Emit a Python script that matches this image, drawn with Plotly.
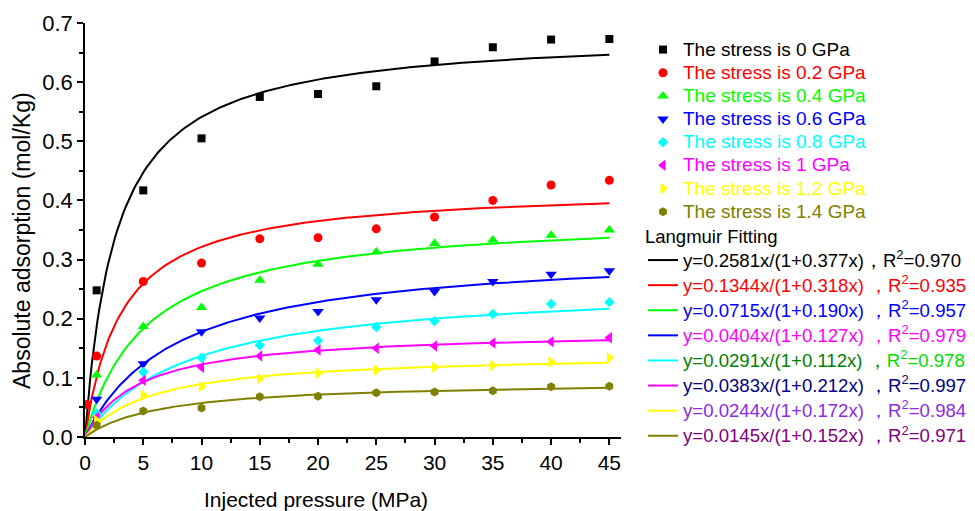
import numpy as np
import plotly.graph_objects as go

# ---------------- data ----------------
pressure = [1, 5, 10, 15, 20, 25, 30, 35, 40, 45]
stress_labels = ["0", "0.2", "0.4", "0.6", "0.8", "1", "1.2", "1.4"]

ads_00 = [0.248, 0.417, 0.505, 0.575, 0.580, 0.593, 0.635, 0.659, 0.672, 0.673]
ads_02 = [0.137, 0.263, 0.294, 0.335, 0.337, 0.352, 0.372, 0.400, 0.426, 0.434]
ads_04 = [0.105, 0.187, 0.219, 0.265, 0.292, 0.313, 0.327, 0.333, 0.341, 0.350]
ads_06 = [0.064, 0.124, 0.178, 0.201, 0.212, 0.232, 0.246, 0.263, 0.275, 0.281]
ads_08 = [0.040, 0.110, 0.134, 0.155, 0.163, 0.186, 0.196, 0.208, 0.225, 0.228]
ads_10 = [0.033, 0.096, 0.118, 0.137, 0.147, 0.150, 0.154, 0.159, 0.161, 0.168]
ads_12 = [0.028, 0.071, 0.085, 0.099, 0.108, 0.113, 0.118, 0.121, 0.127, 0.134]
ads_14 = [0.020, 0.044, 0.049, 0.068, 0.069, 0.075, 0.076, 0.078, 0.085, 0.086]
# extra low-pressure point of the 0.2 GPa series
low_pressure = 0.15
low_ads_02 = 0.055

series = [ads_00, ads_02, ads_04, ads_06, ads_08, ads_10, ads_12, ads_14]

# Langmuir fit parameters  y = a x / (1 + b x)
fit_a = [0.2581, 0.1344, 0.0715, 0.0404, 0.0291, 0.0383, 0.0244, 0.0145]
fit_b = [0.377, 0.318, 0.190, 0.127, 0.112, 0.212, 0.172, 0.152]
fit_r2 = ["0.970", "0.935", "0.957", "0.979", "0.978", "0.997", "0.984", "0.971"]

# ---------------- styles ----------------
colors = ["#000000", "#FF0000", "#00FF00", "#0000FF", "#00FFFF", "#FF00FF", "#FFFF00", "#808000"]
symbols = ["square", "circle", "triangle-up", "triangle-down", "diamond",
           "triangle-left", "triangle-right", "hexagon"]
sizes = [8, 9, 10, 10, 8, 10, 10, 9]
eq_colors = ["#000000", "#FF0000", "#0000FF", "#FF00FF", "#008000", "#000080", "#8A2BE2", "#800080"]
r2_colors = ["#000000", "#FF0000", "#0000FF", "#FF00FF", "#00DD00", "#000080", "#8A2BE2", "#800080"]
FONT = "Arial, Liberation Sans, sans-serif"
PT_PX = 19
FIT_PX = 18.6
TITLE_PX = 18.5

fig = go.Figure()

# fitted curves
xf = np.linspace(0, 45, 300)
for i in range(8):
    a, b = fit_a[i], fit_b[i]
    yf = a * xf / (1 + b * xf)
    sep = "，" if i == 0 else " ，"
    name = (f"<span style='font-size:{FIT_PX}px;color:{eq_colors[i]}'>y={a:.4f}x/(1+{b:.3f}x){sep}</span>"
            f"<span style='font-size:{FIT_PX}px;color:{r2_colors[i]}'>R<sup>2</sup>={fit_r2[i]}</span>")
    fig.add_trace(go.Scatter(
        x=xf, y=yf, mode="lines", line=dict(color=colors[i], width=2),
        name=name, legend="legend2", hoverinfo="skip"))

# data points
for i in range(8):
    xs = list(pressure)
    ys = list(series[i])
    if i == 1:
        xs = [low_pressure] + xs
        ys = [low_ads_02] + ys
    fig.add_trace(go.Scatter(
        x=xs, y=ys, mode="markers",
        marker=dict(symbol=symbols[i], color=colors[i], size=sizes[i], line=dict(width=0)),
        name=(f"<span style='font-size:{PT_PX}px;color:{colors[i]}'>"
              f"The stress is {stress_labels[i]} GPa</span>"),
        legend="legend"))

axis_common = dict(
    showline=True, linecolor="black", linewidth=1.5, showgrid=False, zeroline=False,
    ticks="outside", ticklen=6, tickwidth=1.5, tickcolor="black",
    mirror=False,
)

fig.update_layout(
    width=975, height=511,
    margin=dict(l=85, r=354, t=23, b=74),
    paper_bgcolor="white", plot_bgcolor="white",
    font=dict(family=FONT, color="black"),
    xaxis=dict(range=[0, 46], tickvals=[0, 5, 10, 15, 20, 25, 30, 35, 40, 45],
               tickfont=dict(family=FONT, size=21, color="black"),
               minor=dict(ticks="outside", dtick=2.5, tick0=0, ticklen=4, tickwidth=1.5, tickcolor="black"),
               **axis_common),
    yaxis=dict(range=[0, 0.7], dtick=0.1, tick0=0, tickformat=".1f",
               tickfont=dict(family=FONT, size=22, color="black"),
               minor=dict(ticks="outside", dtick=0.05, tick0=0, ticklen=4, tickwidth=1.5, tickcolor="black"),
               **axis_common),
    legend=dict(xref="container", yref="container", x=643 / 975, y=1 - 33 / 511,
                xanchor="left", yanchor="top", bgcolor="rgba(0,0,0,0)",
                font=dict(family=FONT, size=15.5), itemwidth=30, tracegroupgap=0),
    legend2=dict(xref="container", yref="container", x=643 / 975, y=1 - 210 / 511,
                 xanchor="left", yanchor="top", bgcolor="rgba(0,0,0,0)",
                 title=dict(text=f"<span style='font-size:{TITLE_PX}px'>Langmuir Fitting</span>",
                            font=dict(family=FONT, size=25, color="black")),
                 font=dict(family=FONT, size=17.0), itemwidth=30, tracegroupgap=0),
    showlegend=True,
    annotations=[
        dict(text="Injected pressure (MPa)", xref="paper", yref="paper",
             x=(316 - 85) / 536, y=-(499 - 437) / 414, xanchor="center", yanchor="middle",
             showarrow=False, font=dict(family=FONT, size=21, color="black")),
        dict(text="Absolute adsorption (mol/Kg)", xref="paper", yref="paper", textangle=-90,
             x=-(85 - 22) / 536, y=(437 - 241) / 414, xanchor="center", yanchor="middle",
             showarrow=False, font=dict(family=FONT, size=23, color="black")),
    ],
)

fig.write_html("out.html")
